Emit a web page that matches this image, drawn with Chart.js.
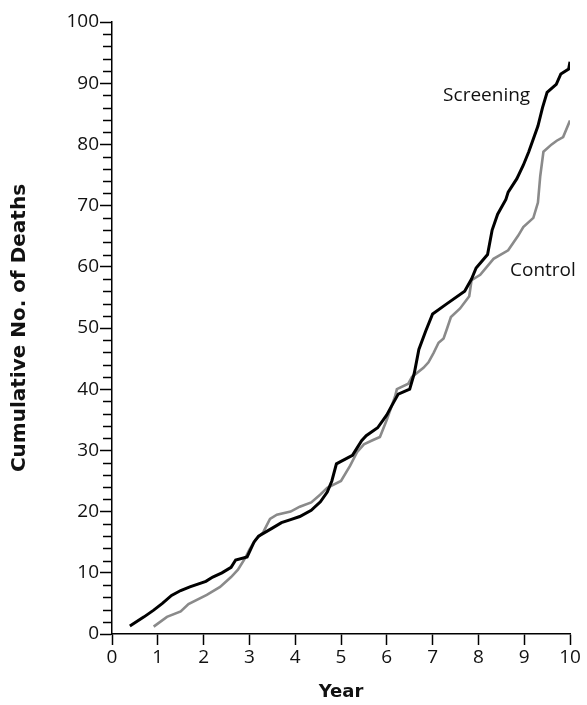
<!DOCTYPE html>
<html>
<head>
<meta charset="utf-8">
<script src="https://cdn.jsdelivr.net/npm/chart.js@4/dist/chart.umd.min.js"></script>
<style>
  html, body { margin: 0; padding: 0; background: #fff; }
  #wrap { width: 587px; height: 705px; position: relative; }
</style>
</head>
<body>
<div id="wrap"><canvas id="c" width="587" height="705"></canvas></div>
<script>
// ---- Data ----
const screeningYears  = [0.39,0.7,0.91,1.1,1.3,1.5,1.7,2.05,2.2,2.4,2.6,2.7,2.95,3.1,3.2,3.5,3.7,3.9,4.1,4.35,4.55,4.7,4.8,4.9,5.0,5.25,5.45,5.55,5.8,6.0,6.1,6.25,6.5,6.6,6.7,6.85,7.0,7.3,7.7,7.85,7.95,8.2,8.3,8.42,8.6,8.65,8.84,8.98,9.1,9.3,9.4,9.5,9.7,9.8,9.97,10.0];
const screeningDeaths = [1.3,2.8,3.9,5.0,6.3,7.1,7.7,8.6,9.3,10.0,10.9,12.1,12.6,15.0,16.0,17.3,18.2,18.7,19.2,20.2,21.6,23.2,25.0,27.8,28.2,29.2,31.6,32.4,33.7,35.8,37.2,39.2,40.0,42.6,46.5,49.5,52.3,53.9,56.0,58.0,59.8,62.0,66.0,68.6,71.0,72.2,74.4,76.6,78.8,83.0,86.0,88.5,89.8,91.5,92.3,93.5];

const controlYears  = [0.91,1.2,1.5,1.67,2.07,2.36,2.6,2.75,2.9,3.0,3.13,3.3,3.45,3.6,3.9,4.1,4.35,4.55,4.7,5.0,5.2,5.35,5.5,5.7,5.85,6.0,6.18,6.22,6.47,6.55,6.8,6.91,7.02,7.13,7.24,7.31,7.4,7.6,7.8,7.85,8.04,8.33,8.65,8.87,8.98,9.2,9.3,9.35,9.42,9.6,9.71,9.85,10.0];
const controlDeaths = [1.2,2.8,3.7,4.9,6.4,7.7,9.3,10.5,12.3,13.8,15.4,16.6,18.8,19.5,20.0,20.8,21.5,22.8,23.9,25.0,27.5,29.7,31.0,31.7,32.2,35.0,38.8,40.0,40.9,42.0,43.5,44.4,45.9,47.6,48.3,49.8,51.8,53.2,55.2,57.8,58.7,61.3,62.7,65.1,66.5,68.0,70.5,74.8,78.8,80.0,80.6,81.2,83.9];

const xTickValues = [0,1,2,3,4,5,6,7,8,9,10];
const yTickValues = [0,10,20,30,40,50,60,70,80,90,100];
const seriesNames = ['Screening', 'Control'];
const xTitle = 'Year';
const yTitle = 'Cumulative No. of Deaths';

const toPoints = (xs, ys) => xs.map((x, i) => ({x: x, y: ys[i]}));

// Minor ticks and series labels drawn through the chart's own scales
const decorations = {
  id: 'decorations',
  afterDraw(chart) {
    const ctx = chart.ctx;
    const ys = chart.scales.y, xs = chart.scales.x;
    ctx.save();
    ctx.strokeStyle = '#000';
    ctx.lineWidth = 1.5;
    for (let v = 0; v <= 100; v += 2) {
      if (v % 10 === 0) continue;
      const py = Math.round(ys.getPixelForValue(v)) + 0.5;
      ctx.beginPath();
      ctx.moveTo(ys.right - 9, py);
      ctx.lineTo(ys.right, py);
      ctx.stroke();
    }
    ctx.fillStyle = '#111';
    ctx.font = '19px "Open Sans"';
    ctx.textBaseline = 'middle';
    ctx.textAlign = 'right';
    ctx.fillText(seriesNames[0], xs.getPixelForValue(9.13), ys.getPixelForValue(88));
    ctx.textAlign = 'left';
    ctx.fillText(seriesNames[1], xs.getPixelForValue(8.69), ys.getPixelForValue(59.3));
    ctx.restore();
  }
};

new Chart(document.getElementById('c'), {
  type: 'line',
  data: {
    datasets: [
      { label: seriesNames[0], data: toPoints(screeningYears, screeningDeaths),
        borderColor: '#000', borderWidth: 3, pointRadius: 0, tension: 0, fill: false, order: 1 },
      { label: seriesNames[1], data: toPoints(controlYears, controlDeaths),
        borderColor: '#8a8a8a', borderWidth: 2.6, pointRadius: 0, tension: 0, fill: false, order: 2 }
    ]
  },
  options: {
    responsive: false,
    animation: false,
    devicePixelRatio: 1,
    layout: { padding: { top: 22, right: 17, left: 0, bottom: 0 } },
    plugins: { legend: { display: false }, tooltip: { enabled: false } },
    scales: {
      x: {
        type: 'linear', min: 0, max: 10,
        afterBuildTicks: (s) => { s.ticks = xTickValues.map(v => ({value: v})); },
        afterFit: (s) => { s.height = 71; },
        grid: { drawOnChartArea: false, drawTicks: true, tickLength: 11, tickColor: '#000', tickWidth: 1.5 },
        border: { display: true, color: '#000', width: 1.5 },
        ticks: { color: '#111', font: { family: 'Open Sans', size: 19 }, padding: 1, maxRotation: 0, autoSkip: false },
        title: { display: true, text: xTitle, color: '#111',
                 font: { family: 'DejaVu Sans', size: 18, weight: 'bold' }, padding: { top: 0, bottom: 2 } }
      },
      y: {
        type: 'linear', min: 0, max: 100,
        afterBuildTicks: (s) => { s.ticks = yTickValues.map(v => ({value: v})); },
        afterFit: (s) => { s.width = 112; },
        grid: { drawOnChartArea: false, drawTicks: true, tickLength: 12, tickColor: '#000', tickWidth: 1.5 },
        border: { display: true, color: '#000', width: 1.5 },
        ticks: { color: '#111', font: { family: 'Open Sans', size: 19 }, padding: 1, autoSkip: false },
        title: { display: true, text: yTitle, color: '#111',
                 font: { family: 'DejaVu Sans', size: 20, weight: 'bold' }, padding: { top: 8, bottom: 0 } }
      }
    }
  },
  plugins: [decorations]
});
</script>
</body>
</html>
